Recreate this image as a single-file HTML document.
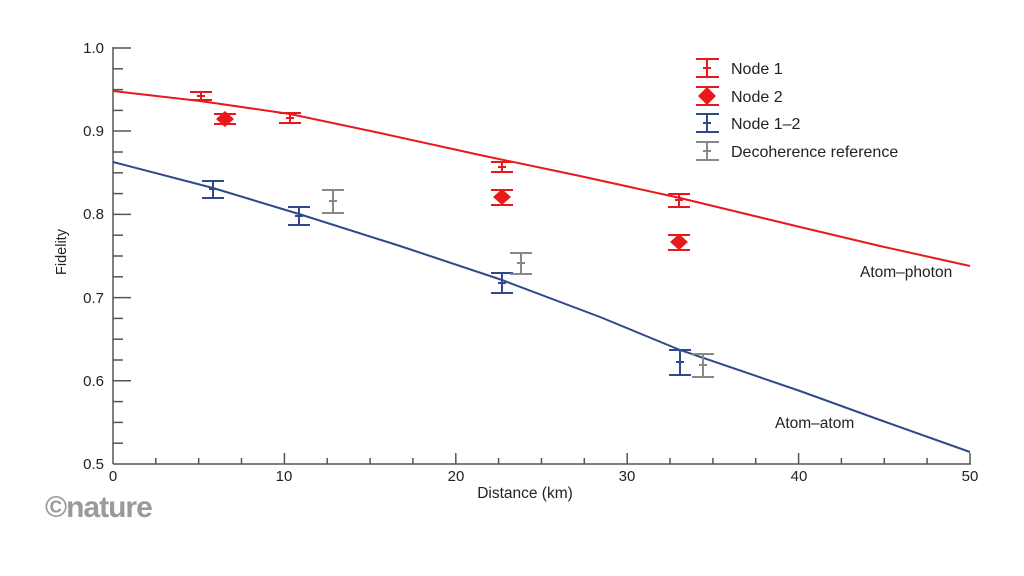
<!DOCTYPE html>
<html><head><meta charset="utf-8"><style>
html,body{margin:0;padding:0;background:#fff;width:1024px;height:576px;overflow:hidden}
text{font-family:"Liberation Sans",sans-serif;fill:#222}
</style></head><body>
<svg width="1024" height="576" viewBox="0 0 1024 576">
<g stroke="#555" stroke-width="1.5" fill="none">
<line x1="113" y1="47" x2="113" y2="464"/>
<line x1="113" y1="464" x2="971" y2="464"/>
<line x1="113" y1="48" x2="131" y2="48"/><line x1="113" y1="131" x2="131" y2="131"/><line x1="113" y1="214.4" x2="131" y2="214.4"/><line x1="113" y1="297.6" x2="131" y2="297.6"/><line x1="113" y1="380.8" x2="131" y2="380.8"/>
<line x1="113" y1="68.8" x2="123" y2="68.8"/><line x1="113" y1="89.6" x2="123" y2="89.6"/><line x1="113" y1="110.4" x2="123" y2="110.4"/>
<line x1="113" y1="152" x2="123" y2="152"/><line x1="113" y1="172.8" x2="123" y2="172.8"/><line x1="113" y1="193.6" x2="123" y2="193.6"/>
<line x1="113" y1="235.2" x2="123" y2="235.2"/><line x1="113" y1="256" x2="123" y2="256"/><line x1="113" y1="276.8" x2="123" y2="276.8"/>
<line x1="113" y1="318.4" x2="123" y2="318.4"/><line x1="113" y1="339.2" x2="123" y2="339.2"/><line x1="113" y1="360" x2="123" y2="360"/>
<line x1="113" y1="401.6" x2="123" y2="401.6"/><line x1="113" y1="422.4" x2="123" y2="422.4"/><line x1="113" y1="443.2" x2="123" y2="443.2"/>
<line x1="284.4" y1="464" x2="284.4" y2="453"/><line x1="455.8" y1="464" x2="455.8" y2="453"/><line x1="627.2" y1="464" x2="627.2" y2="453"/><line x1="798.6" y1="464" x2="798.6" y2="453"/><line x1="970" y1="464" x2="970" y2="453"/>
<line x1="155.8" y1="464" x2="155.8" y2="458"/><line x1="198.7" y1="464" x2="198.7" y2="458"/><line x1="241.5" y1="464" x2="241.5" y2="458"/>
<line x1="327.2" y1="464" x2="327.2" y2="458"/><line x1="370.1" y1="464" x2="370.1" y2="458"/><line x1="412.9" y1="464" x2="412.9" y2="458"/>
<line x1="498.6" y1="464" x2="498.6" y2="458"/><line x1="541.5" y1="464" x2="541.5" y2="458"/><line x1="584.3" y1="464" x2="584.3" y2="458"/>
<line x1="670" y1="464" x2="670" y2="458"/><line x1="712.9" y1="464" x2="712.9" y2="458"/><line x1="755.7" y1="464" x2="755.7" y2="458"/>
<line x1="841.4" y1="464" x2="841.4" y2="458"/><line x1="884.3" y1="464" x2="884.3" y2="458"/><line x1="927.1" y1="464" x2="927.1" y2="458"/>
</g>
<g font-size="15">
<text x="104" y="53" text-anchor="end">1.0</text>
<text x="104" y="136" text-anchor="end">0.9</text>
<text x="104" y="219" text-anchor="end">0.8</text>
<text x="104" y="303" text-anchor="end">0.7</text>
<text x="104" y="386" text-anchor="end">0.6</text>
<text x="104" y="469" text-anchor="end">0.5</text>
<text x="113" y="481" text-anchor="middle">0</text>
<text x="284" y="481" text-anchor="middle">10</text>
<text x="456" y="481" text-anchor="middle">20</text>
<text x="627" y="481" text-anchor="middle">30</text>
<text x="799" y="481" text-anchor="middle">40</text>
<text x="970" y="481" text-anchor="middle">50</text>
<text x="525" y="498" text-anchor="middle" font-size="15.5">Distance (km)</text>
<text transform="translate(66,252) rotate(-90)" text-anchor="middle" font-size="14.5">Fidelity</text>
<text x="860" y="277" font-size="15.5">Atom–photon</text>
<text x="775" y="428" font-size="15.5">Atom–atom</text>
</g>
<text x="45" y="517" font-family="Liberation Serif,serif" font-weight="bold" font-size="30" style="fill:#9a9a9a;letter-spacing:-1px">©nature</text>
<polyline points="113,91 200,101 290,114 380,133 480,155 580,176 680,198 800,227 880,246 970,266" stroke="#e8181b" stroke-width="2" fill="none"/>
<polyline points="113,162 213,188 299,214 400,246 502,280 600,317 680,350 800,391 880,420 970,452" stroke="#2f4a8a" stroke-width="2" fill="none"/>
<g stroke-width="2" fill="none">
<g stroke="#e8181b">
<path d="M190,92h22M190,100h22M201,92v8M197,96h8"/>
<path d="M279,113h22M279,123h22M290,113v10M286,118h8"/>
<path d="M491,162h22M491,172h22M502,162v10M498,167h8"/>
<path d="M668,194h22M668,207h22M679,194v13M675,200h8"/>
<path d="M214,114h22M214,124h22"/>
<path d="M491,190h22M491,205h22"/>
<path d="M668,235h22M668,250h22"/>
</g>
<g stroke="#2f4a8a">
<path d="M202,181h22M202,198h22M213,181v17M209,189h8"/>
<path d="M288,207h22M288,225h22M299,207v18M295,216h8"/>
<path d="M491,273h22M491,293h22M502,273v20M498,283h8"/>
<path d="M669,350h22M669,375h22M680,350v25M676,362h8"/>
</g>
<g stroke="#888">
<path d="M322,190h22M322,213h22M333,190v23M329,201h8"/>
<path d="M510,253h22M510,274h22M521,253v21M517,263h8"/>
<path d="M692,354h22M692,377h22M703,354v23M699,365h8"/>
</g>
</g>
<g fill="#e8181b">
<path d="M225,111l9,8l-9,8l-9,-8z"/>
<path d="M502,189l9,8l-9,8l-9,-8z"/>
<path d="M679,234l9,8l-9,8l-9,-8z"/>
</g>
<g stroke-width="2" fill="none">
<path stroke="#e8181b" d="M696,59h23M696,77h23M707,59v18M703,68h8"/>
<path stroke="#e8181b" d="M696,87h23M696,105h23"/>
<path stroke="#2f4a8a" d="M696,114h23M696,132h23M707,114v18M703,123h8"/>
<path stroke="#888" d="M696,142h23M696,160h23M707,142v18M703,151h8"/>
</g>
<path fill="#e8181b" d="M707,87l9,9l-9,9l-9,-9z"/>
<g font-size="16">
<text x="731" y="74">Node 1</text>
<text x="731" y="102">Node 2</text>
<text x="731" y="129">Node 1–2</text>
<text x="731" y="157">Decoherence reference</text>
</g>
</svg>
</body></html>
